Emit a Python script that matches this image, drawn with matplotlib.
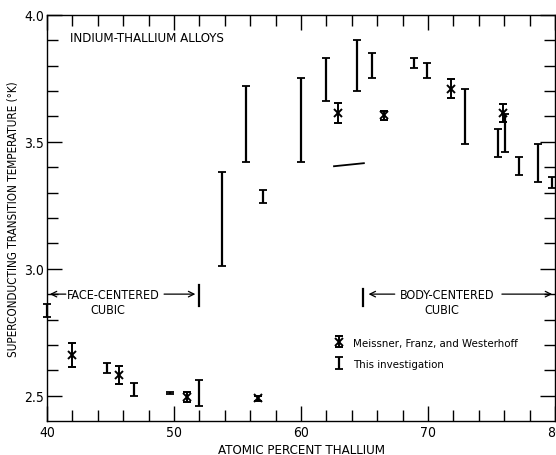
import matplotlib
matplotlib.use("Agg")
import matplotlib.pyplot as plt
import numpy as np

# DejaVu Sans Condensed is picked through the stretch setting
plt.rcParams['font.family'] = ['DejaVu Sans']
plt.rcParams['font.stretch'] = 'condensed'

# This investigation: transition range (low, high) at each composition
inv_x = [40.0, 44.7, 46.85, 49.7, 52.0, 53.8, 55.7, 57.0, 60.0, 62.0, 64.4, 65.6,
         68.9, 69.9, 72.9, 75.5, 76.1, 77.2, 78.7, 79.8]
inv_lo = [2.81, 2.59, 2.50, 2.507, 2.46, 3.01, 3.42, 3.26, 3.42, 3.66, 3.70, 3.75,
          3.79, 3.75, 3.49, 3.44, 3.46, 3.37, 3.34, 3.32]
inv_hi = [2.86, 2.63, 2.55, 2.514, 2.56, 3.38, 3.72, 3.31, 3.75, 3.83, 3.90, 3.85,
          3.83, 3.81, 3.71, 3.55, 3.61, 3.44, 3.49, 3.36]

# Meissner, Franz and Westerhoff
mfw_x = [42.0, 45.65, 51.0, 56.6, 62.9, 66.5, 71.85, 75.9]
mfw_y = [2.66, 2.58, 2.495, 2.49, 3.615, 3.605, 3.71, 3.615]
mfw_err = [0.046, 0.035, 0.021, 0.010, 0.04, 0.018, 0.036, 0.035]

# stray segment drawn near 63-65 at.%
seg_x = [62.6, 64.95]
seg_y = [3.404, 3.416]

fig = plt.figure(figsize=(5.56, 4.56), dpi=100)
ax = fig.add_axes([47 / 556, 34 / 456, 508 / 556, 406 / 456])

lo = np.array(inv_lo)
hi = np.array(inv_hi)
ax.errorbar(inv_x, (lo + hi) / 2, yerr=(hi - lo) / 2, fmt='none', ecolor='k',
            elinewidth=1.6, capsize=3.2, capthick=1.3, label='This investigation',
            clip_on=False)
ax.errorbar(mfw_x, mfw_y, yerr=mfw_err, fmt='x', color='k', ms=5.5, mew=1.4,
            elinewidth=1.4, capsize=3.2, capthick=1.3,
            label='Meissner, Franz, and Westerhoff', clip_on=False)
ax.plot(seg_x, seg_y, color='k', lw=1.3)

h, l = ax.get_legend_handles_labels()
leg = ax.legend(h[::-1], l[::-1], loc='upper left', bbox_to_anchor=(0.569, 0.205),
                frameon=False, handlelength=0.6, handletextpad=0.9,
                borderpad=0, borderaxespad=0, labelspacing=1.0,
                prop={'size': 8.2, 'stretch': 'condensed'})

ax.set_xlim(40, 80)
ax.set_ylim(2.4, 4.0)
ax.set_xticks([40, 50, 60, 70, 80])
ax.set_xticks(np.arange(42, 80, 2), minor=True)
ax.set_yticks([2.5, 3.0, 3.5, 4.0])
ax.set_yticks(np.arange(2.5, 4.0, 0.1), minor=True)
ax.set_yticklabels(['2.5', '3.0', '3.5', '4.0'])
ax.tick_params(which='both', direction='in', top=True, right=True, width=1.0,
               labelsize=10)
ax.tick_params(which='major', length=11)
ax.tick_params(which='minor', length=8)
ax.tick_params(axis='y', pad=2)
ax.tick_params(axis='x', pad=3)
for s in ax.spines.values():
    s.set_linewidth(1.0)

ax.set_xlabel('ATOMIC PERCENT THALLIUM', fontsize=9.5, labelpad=3)
ax.set_ylabel('SUPERCONDUCTING TRANSITION TEMPERATURE (\u00b0K)', fontsize=8.4,
              labelpad=3)

ax.text(41.8, 3.913, 'INDIUM-THALLIUM ALLOYS', fontsize=9.5, va='center')

# face-centered cubic region
ax.text(45.2, 2.9, 'FACE-CENTERED', fontsize=9, ha='center', va='center')
ax.text(44.8, 2.84, 'CUBIC', fontsize=9, ha='center', va='center')
ax.annotate('', xy=(40, 2.9), xytext=(41.7, 2.9),
            arrowprops=dict(arrowstyle='->', lw=0.9, color='k'))
ax.annotate('', xy=(51.9, 2.9), xytext=(49.0, 2.9),
            arrowprops=dict(arrowstyle='->', lw=0.9, color='k'))
ax.plot([52.0, 52.0], [2.855, 2.935], color='k', lw=1.6)

# body-centered cubic region
ax.text(71.5, 2.9, 'BODY-CENTERED', fontsize=9, ha='center', va='center')
ax.text(71.1, 2.84, 'CUBIC', fontsize=9, ha='center', va='center')
ax.annotate('', xy=(65.1, 2.9), xytext=(67.6, 2.9),
            arrowprops=dict(arrowstyle='->', lw=0.9, color='k'))
ax.annotate('', xy=(80, 2.9), xytext=(75.6, 2.9),
            arrowprops=dict(arrowstyle='->', lw=0.9, color='k'))
ax.plot([64.9, 64.9], [2.853, 2.921], color='k', lw=1.6)

fig.savefig('out.png', dpi=100)
